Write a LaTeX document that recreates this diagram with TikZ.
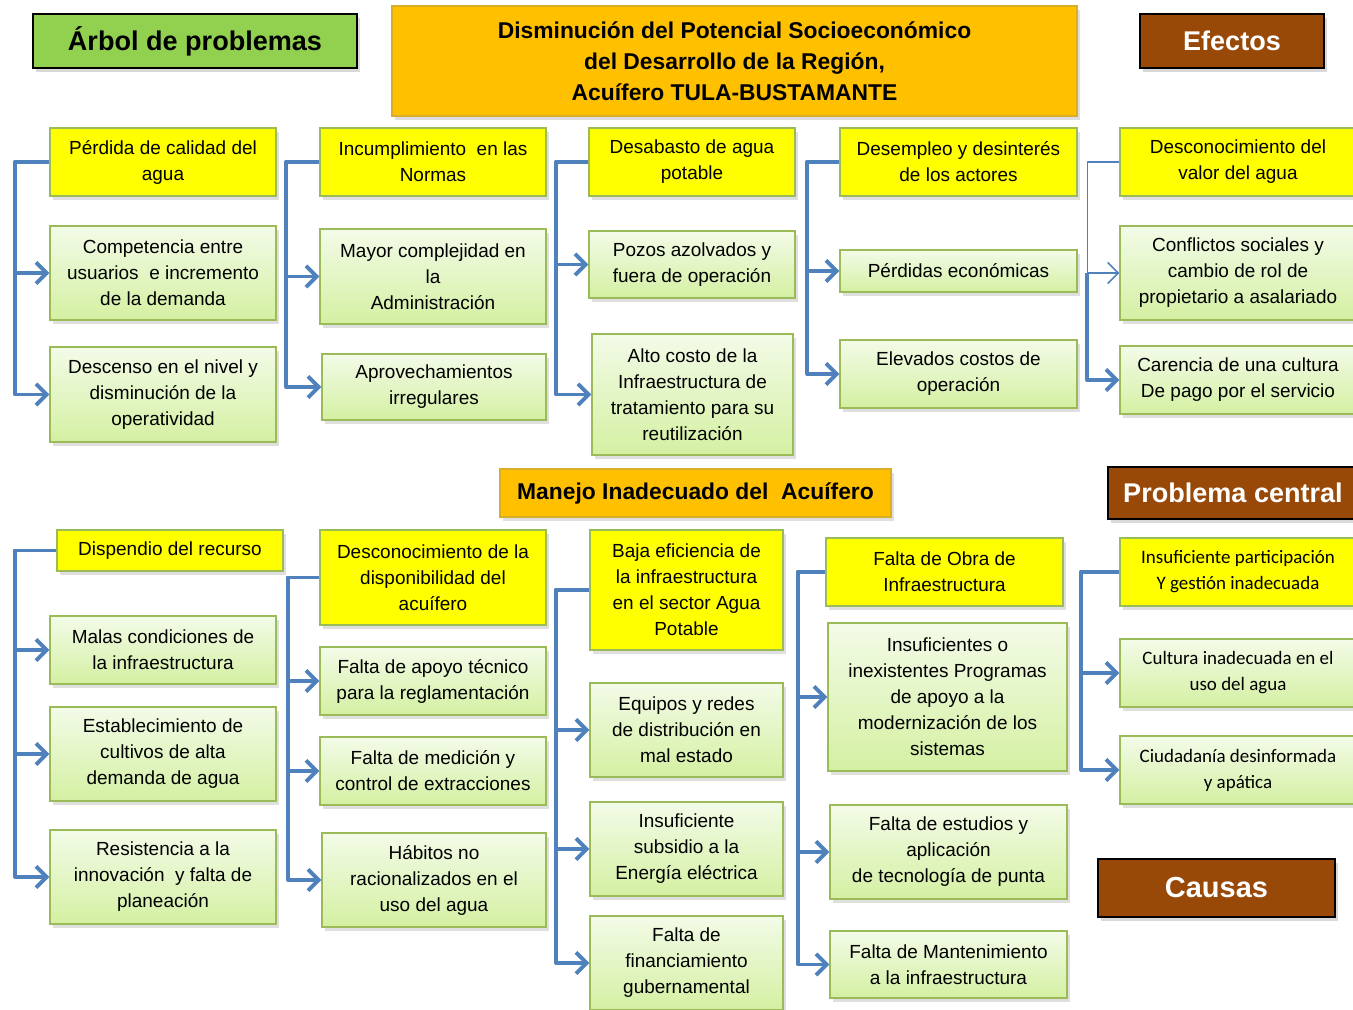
\documentclass[tikz,border=0pt]{standalone}
\usepackage{fontspec}
\setmainfont{Liberation Sans}
\newfontfamily\calibri{Carlito}
\usetikzlibrary{positioning,arrows.meta,shadows}
\definecolor{boxedge}{HTML}{9BBB59}
\definecolor{greentop}{HTML}{F3FBE8}
\definecolor{greenbot}{HTML}{D4F0A2}
\definecolor{rootyellow}{HTML}{FFFF00}
\definecolor{headorange}{HTML}{FFC000}
\definecolor{tagbrown}{HTML}{984807}
\definecolor{taggreen}{HTML}{92D050}
\definecolor{linkblue}{HTML}{4F81BD}

\begin{document}
\begin{tikzpicture}[
  x=0.02cm, y=-0.02cm,
  wh/.style 2 args={minimum width=#1*0.02cm, minimum height=#2*0.02cm},
  box/.style={draw=boxedge, line width=0.8pt, inner sep=0pt, align=center,
    font=\fontsize{10.8}{14.8}\selectfont,
    drop shadow={shadow xshift=0.05cm, shadow yshift=-0.08cm, opacity=0.25}},
  sub/.style={box, top color=greentop, bottom color=greenbot},
  root/.style={box, fill=rootyellow},
  head/.style={draw=headorange!70!gray, line width=0.6pt, fill=headorange, inner sep=0pt, align=center,
    font=\fontsize{13}{17.6}\selectfont\bfseries,
    drop shadow={shadow xshift=0.05cm, shadow yshift=-0.08cm, opacity=0.25}},
  tag/.style={draw=black, line width=1.2pt, inner sep=0pt, font=\fontsize{15.4}{18}\selectfont\bfseries,
    drop shadow={shadow xshift=0.06cm, shadow yshift=-0.08cm, opacity=0.3}},
  stem/.style={draw=linkblue, line width=2.2pt, line join=round},
  conn/.style={stem, -{Straight Barb[length=6pt,width=12pt]}}
]
  \clip (0,0) rectangle (1353,1010);

  \node[tag, fill=taggreen, wh={324}{54}] (arbol) at (195,41) {Árbol de problemas};
  \node[head, wh={685}{110}] (efecto) at (734.5,61)
    {Disminución del Potencial Socioeconómico\\del Desarrollo de la Región,\\Acuífero  TULA-BUSTAMANTE};
  \node[tag, fill=tagbrown, text=white, wh={184}{54}] (efectos) at (1232,41) {Efectos};

  % efectos
  \node[root, wh={226}{68}] (p1) at (163,162) {Pérdida de calidad del\\agua};
  \node[sub, wh={226}{94}] (c1a) at (163,273) {Competencia entre\\usuarios\ \ e incremento\\de la demanda};
  \node[sub, wh={226}{95}] (c1b) at (163,394.5) {Descenso en el nivel y\\disminución de la\\operatividad};

  \node[root, wh={226}{68}] (p2) at (433,162) {Incumplimiento\ \ en las\\Normas};
  \node[sub, wh={226}{95}] (c2a) at (433,276.5) {Mayor complejidad en\\la\\Administración};
  \node[sub, wh={224}{66}] (c2b) at (434,387) {Aprovechamientos\\irregulares};

  \node[root, wh={206}{68}] (p3) at (692,162) {Desabasto de agua\\potable};
  \node[sub, wh={206}{67}] (c3a) at (692,264.5) {Pozos azolvados y\\fuera de operación};
  \node[sub, wh={201}{121}] (c3b) at (692.5,394.5) {Alto costo de la\\Infraestructura de\\tratamiento para su\\reutilización};

  \node[root, wh={237}{68}] (p4) at (958.5,162) {Desempleo y desinterés\\de los actores};
  \node[sub, wh={237}{42}] (c4a) at (958.5,271) {Pérdidas económicas};
  \node[sub, wh={237}{68}] (c4b) at (958.5,374) {Elevados costos de\\operación};

  \node[root, wh={236}{68}] (p5) at (1238,162) {Desconocimiento del\\valor del agua};
  \node[sub, wh={236}{94}] (c5a) at (1238,273) {Conflictos sociales y\\cambio de rol de\\propietario a asalariado};
  \node[sub, wh={236}{68}] (c5b) at (1238,380) {Carencia de una cultura\\De pago por el servicio};

  \foreach \n in {c1a,c1b} \draw[conn] (p1.west) -- ++(-34,0) |- (\n.west);
  \foreach \n in {c2a,c2b} \draw[conn] (p2.west) -- ++(-33,0) |- (\n.west);
  \foreach \n in {c3a,c3b} \draw[conn] (p3.west) -- ++(-32,0) |- (\n.west);
  \foreach \n in {c4a,c4b} \draw[conn] (p4.west) -- ++(-32,0) |- (\n.west);
  \draw[conn, line width=0.9pt] (p5.west) -- ++(-32,0) |- (c5a.west);
  \draw[conn] (c5a.west) ++(-32,0) |- (c5b.west);

  % problema central
  \node[head, wh={391}{48}] (manejo) at (695.5,493) {Manejo Inadecuado del\ \ Acuífero};
  \node[tag, fill=tagbrown, text=white, wh={250}{52}] (central) at (1233,493) {Problema central};

  % causas
  \node[root, wh={226}{41}] (q1) at (170,550.5) {Dispendio del recurso};
  \node[sub, wh={226}{68}] (d1a) at (163,650) {Malas condiciones de\\la infraestructura};
  \node[sub, wh={226}{94}] (d1b) at (163,754) {Establecimiento de\\cultivos de alta\\demanda de agua};
  \node[sub, wh={226}{94}] (d1c) at (163,877) {Resistencia a la\\innovación\ \ y falta de\\planeación};

  \node[root, wh={226}{95}] (q2) at (433,577.5) {Desconocimiento de la\\disponibilidad del\\acuífero};
  \node[sub, wh={226}{68}] (d2a) at (433,681) {Falta de apoyo técnico\\para la reglamentación};
  \node[sub, wh={226}{68}] (d2b) at (433,771) {Falta de medición y\\control de extracciones};
  \node[sub, wh={224}{94}] (d2c) at (434,880) {Hábitos no\\racionalizados en el\\uso del agua};

  \node[root, wh={193}{120}] (q3) at (686.5,590) {Baja eficiencia de\\la infraestructura\\en el sector Agua\\Potable};
  \node[sub, wh={193}{94}] (d3a) at (686.5,730) {Equipos y redes\\de distribución en\\mal estado};
  \node[sub, wh={193}{94}] (d3b) at (686.5,849) {Insuficiente\\subsidio a la\\Energía eléctrica};
  \node[sub, wh={193}{94}] (d3c) at (686.5,963) {Falta de\\financiamiento\\gubernamental};

  \node[root, wh={237}{68}] (q4) at (944.5,572) {Falta de Obra de\\Infraestructura};
  \node[sub, wh={239}{148}] (d4a) at (947.5,697) {Insuficientes o\\inexistentes Programas\\de apoyo a la\\modernización de los\\sistemas};
  \node[sub, wh={237}{94}] (d4b) at (948.5,852) {Falta de estudios y\\aplicación\\de tecnología de punta};
  \node[sub, wh={237}{67}] (d4c) at (948.5,964.5) {Falta de Mantenimiento\\a la infraestructura};

  \node[root, wh={236}{68}, font=\calibri\fontsize{10.8}{14.8}\selectfont] (q5) at (1238,572) {Insuficiente participación\\Y gestión inadecuada};
  \node[sub, wh={236}{68}, font=\calibri\fontsize{10.8}{14.8}\selectfont] (d5a) at (1238,673) {Cultura inadecuada en el\\uso del agua};
  \node[sub, wh={236}{68}, font=\calibri\fontsize{10.8}{14.8}\selectfont] (d5b) at (1238,770) {Ciudadanía desinformada\\y apática};

  \node[tag, fill=tagbrown, text=white, wh={237}{58}, font=\fontsize{16.5}{20}\selectfont\bfseries] (causas) at (1216.5,888) {Causas};

  \foreach \n in {d1a,d1b,d1c} \draw[conn] (q1.west) -- ++(-41,0) |- (\n.west);
  \foreach \n in {d2a,d2b,d2c} \draw[conn] (q2.west) -- ++(-31,0) |- (\n.west);
  \foreach \n in {d3a,d3b,d3c} \draw[conn] (q3.west) -- ++(-33,0) |- (\n.west);
  \foreach \n in {d4a,d4b,d4c} \draw[conn] (q4.west) -- ++(-27,0) |- (\n.west);
  \foreach \n in {d5a,d5b} \draw[conn] (q5.west) -- ++(-38,0) |- (\n.west);
\end{tikzpicture}
\end{document}
